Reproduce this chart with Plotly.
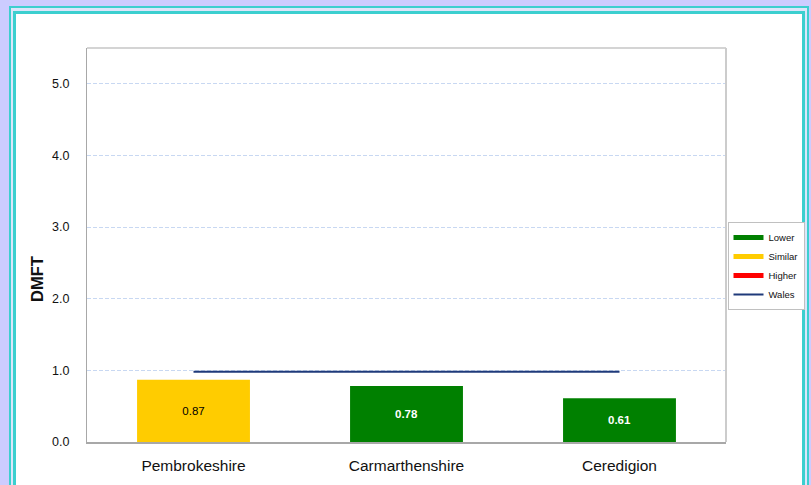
import plotly.graph_objects as go

# ---- data ----
categories = ["Pembrokeshire", "Carmarthenshire", "Ceredigion"]
dmft_values = [0.87, 0.78, 0.61]
status = ["Similar", "Lower", "Lower"]
wales_value = 0.98
legend_order = ["Lower", "Similar", "Higher"]
y_ticks = [0.0, 1.0, 2.0, 3.0, 4.0, 5.0]
y_title = "DMFT"

status_colors = {"Lower": "#008000", "Similar": "#FFCC00", "Higher": "#FF0000"}
wales_color = "#1F3A7A"

W, H = 811, 485
L, R, T, B = 87, 85, 48, 43
PW, PH = W - L - R, H - T - B


def px_x(p):
    return (p - L) / PW


def px_y(p):
    return (H - B - p) / PH


fig = go.Figure()

bar_colors = [status_colors[s] for s in status]
text_colors = ["#000000" if s == "Similar" else "#FFFFFF" for s in status]
texts = [f"{v:.2f}" if s == "Similar" else f"<b>{v:.2f}</b>" for v, s in zip(dmft_values, status)]

fig.add_trace(go.Bar(
    x=categories, y=dmft_values, marker=dict(color=bar_colors, line=dict(width=0)),
    width=0.53, text=texts, textposition="inside", insidetextanchor="middle",
    textfont=dict(size=11.5, color=text_colors, family="Liberation Sans, Arial"),
    textangle=0, showlegend=False, hoverinfo="x+y",
))

fig.add_trace(go.Scatter(
    x=categories, y=[wales_value] * len(categories), mode="lines",
    line=dict(color=wales_color, width=2), showlegend=False, hoverinfo="y",
))

for name in legend_order:
    fig.add_trace(go.Scatter(
        x=[None], y=[None], mode="lines", name=name,
        line=dict(color=status_colors[name], width=5),
    ))
fig.add_trace(go.Scatter(
    x=[None], y=[None], mode="lines", name="Wales",
    line=dict(color=wales_color, width=2),
))

# decorative frame
shapes = []
frame = [
    (9, 6, 809, 520, "#3CCFCF"),
    (11, 8, 807, 520, "#DCE6FA"),
    (13, 11, 805, 520, "#3CCFCF"),
    (16, 14, 802, 520, "#FFFFFF"),
]
for x0, y0, x1, y1, c in frame:
    shapes.append(dict(type="rect", xref="paper", yref="paper",
                       x0=px_x(x0), x1=px_x(x1), y0=px_y(y1), y1=px_y(y0),
                       fillcolor=c, line=dict(width=0), layer="below"))
# light top / right plot border
shapes.append(dict(type="line", xref="paper", yref="paper", x0=0, x1=1, y0=1, y1=1,
                   line=dict(color="#D4D4D4", width=2)))
shapes.append(dict(type="line", xref="paper", yref="paper", x0=1, x1=1, y0=0, y1=1,
                   line=dict(color="#CCCCCC", width=2)))

fig.update_layout(
    width=W, height=H,
    margin=dict(l=L, r=R, t=T, b=B, pad=0, autoexpand=False),
    paper_bgcolor="#CCCCFF",
    plot_bgcolor="rgba(0,0,0,0)",
    font=dict(family="Liberation Sans, Arial", color="#111111"),
    shapes=shapes,
    showlegend=True,
    legend=dict(
        x=px_x(727.5), y=px_y(266), xanchor="left", yanchor="middle",
        bgcolor="#FFFFFF", bordercolor="#C0C0C0", borderwidth=1,
        font=dict(size=9.5, color="#111111"), itemwidth=30,
        tracegroupgap=0,
    ),
    annotations=[dict(
        text=f"<b>{y_title}</b>", xref="paper", yref="paper",
        x=px_x(37), y=px_y(279), xanchor="center", yanchor="middle",
        textangle=-90, showarrow=False, font=dict(size=16.5, color="#111111"),
    )],
)

fig.update_xaxes(
    showgrid=False, showline=True, linecolor="#A8A8A8", linewidth=2, mirror=False,
    ticks="outside", ticklen=8, tickcolor="rgba(0,0,0,0)",
    tickfont=dict(size=15.5, color="#111111"), zeroline=False,
)
fig.update_yaxes(
    range=[0, 5.5], tickvals=y_ticks, ticktext=[f"{v:.1f}" for v in y_ticks],
    showgrid=True, gridcolor="#C8D8F2", griddash="4px,2px", gridwidth=1,
    showline=True, linecolor="#A8A8A8", linewidth=1, mirror=False,
    ticks="outside", ticklen=14, tickcolor="rgba(0,0,0,0)",
    tickfont=dict(size=12.5, color="#111111"), zeroline=False,
)

fig.write_html("out.html", config={"displayModeBar": False},
               post_script="document.body.style.margin='0px';")
